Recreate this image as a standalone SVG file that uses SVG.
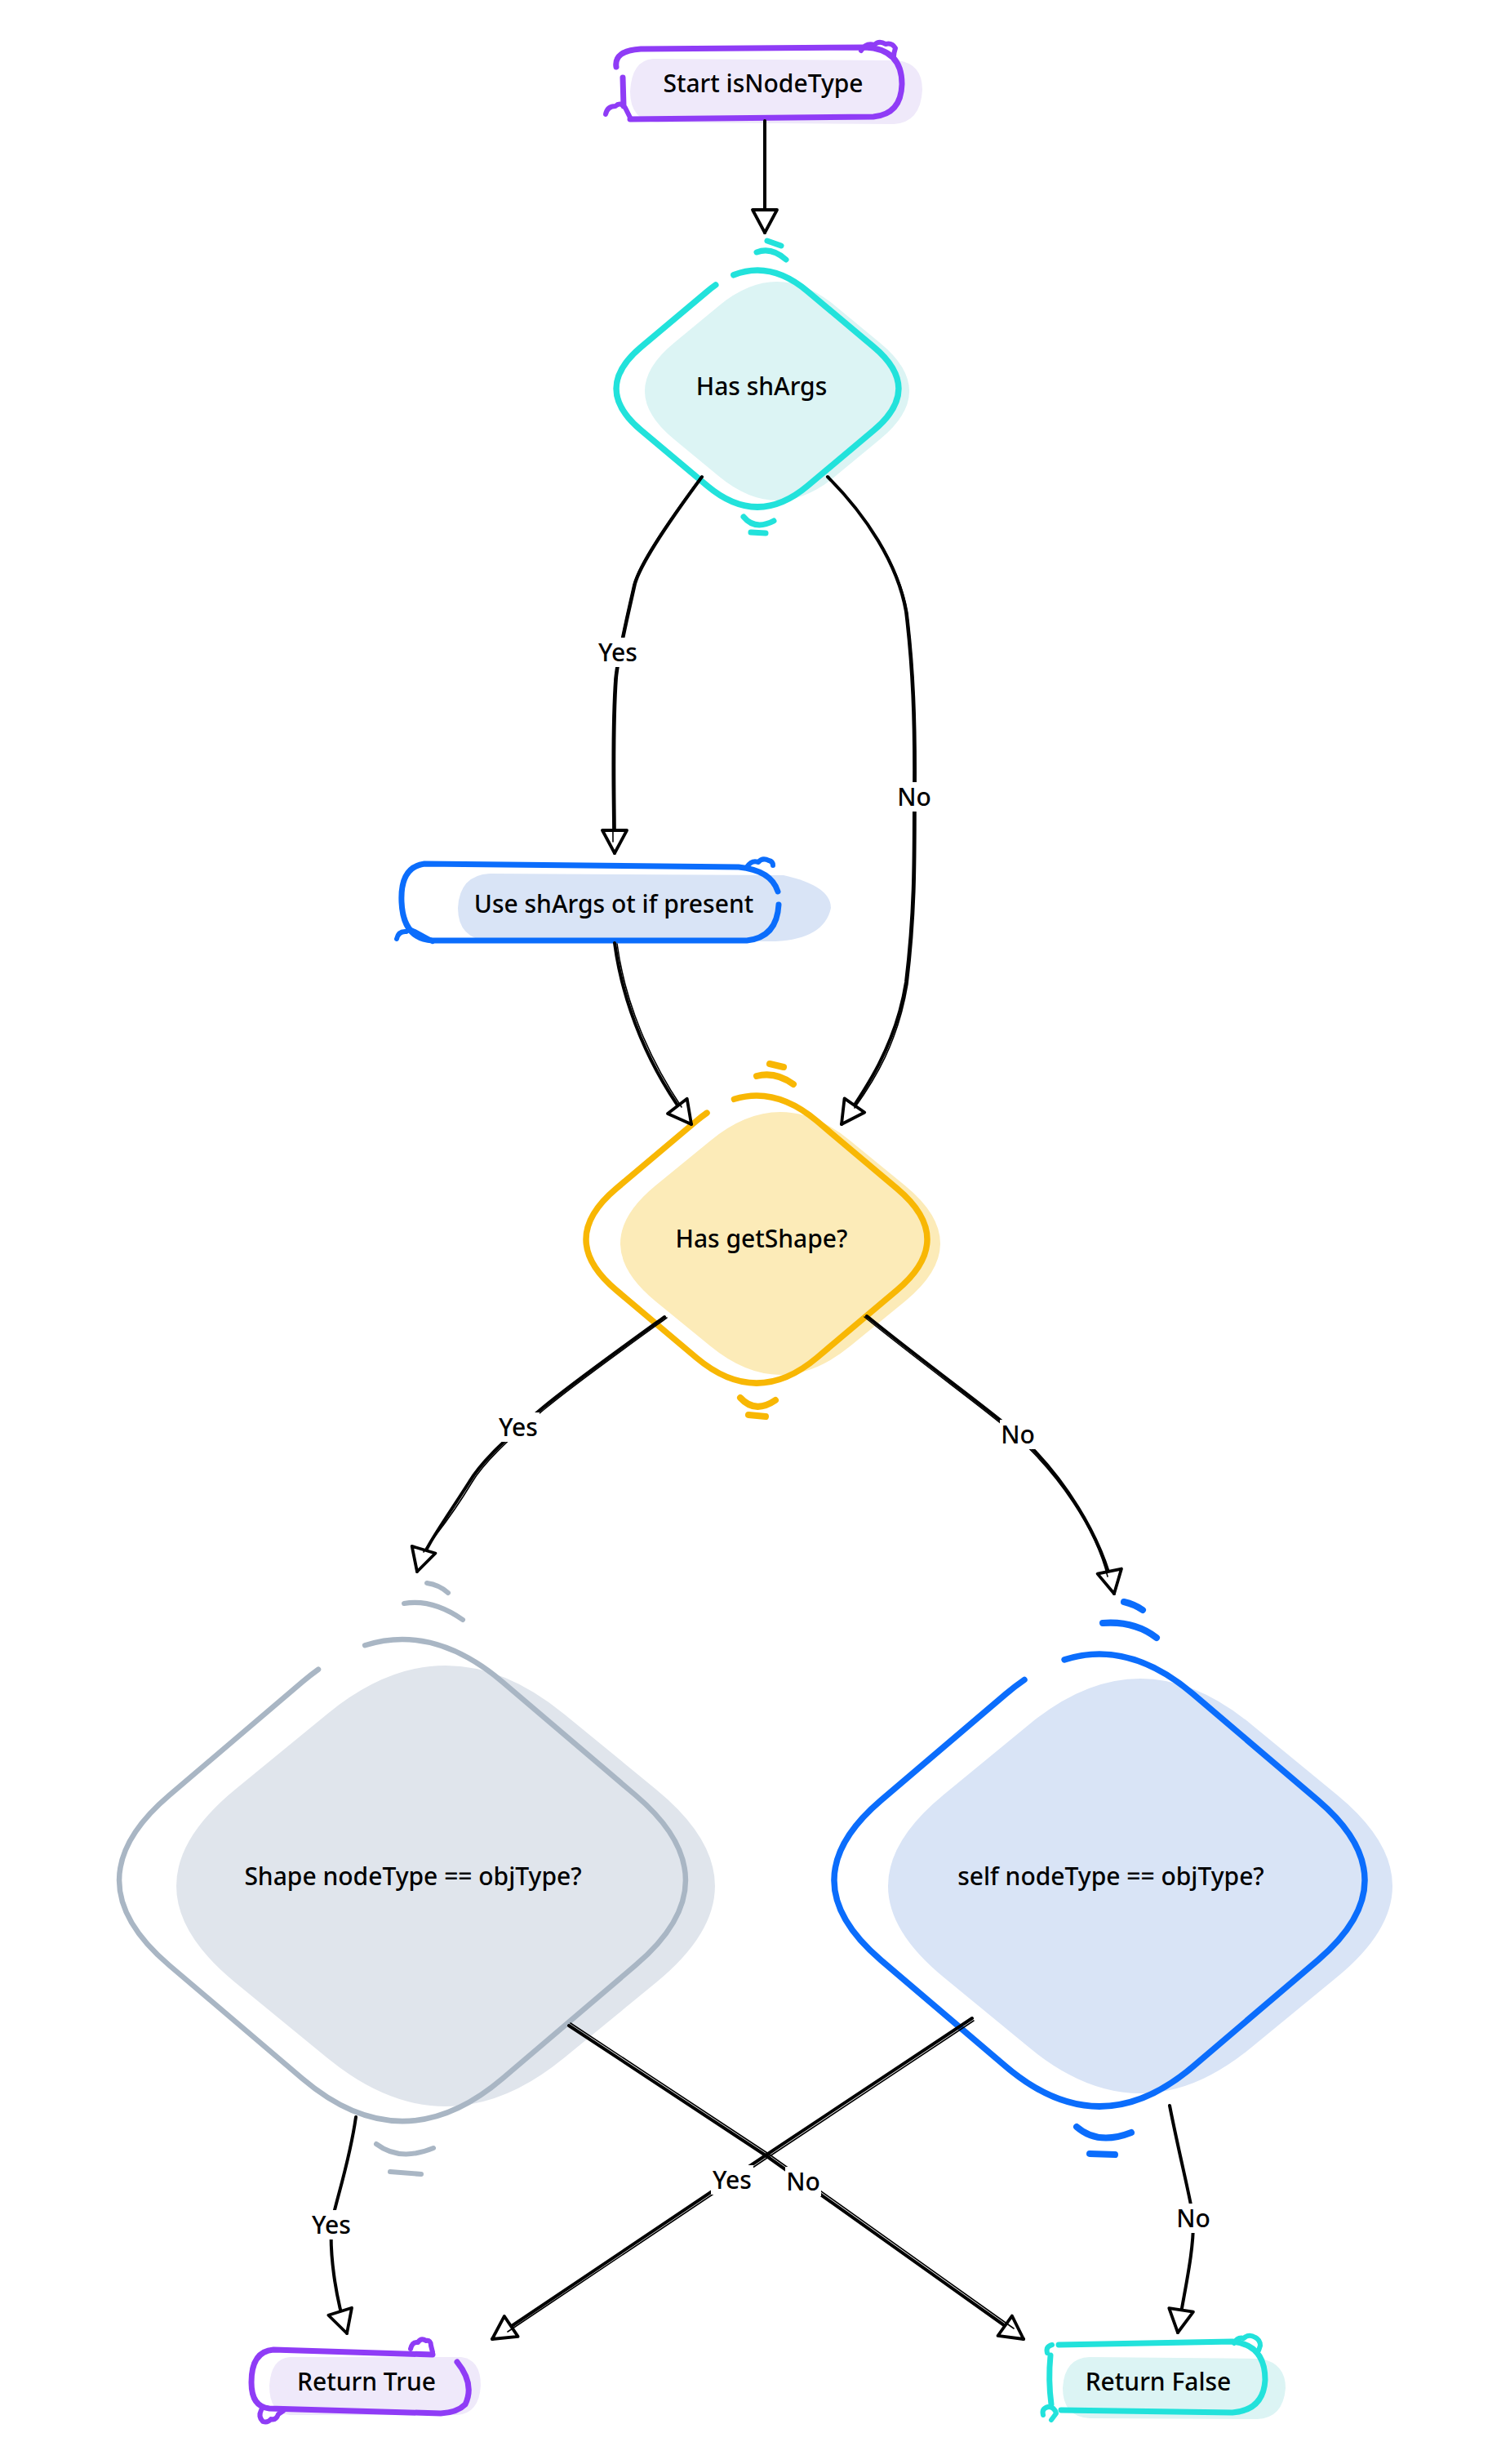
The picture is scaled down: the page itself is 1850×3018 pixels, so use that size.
<svg xmlns="http://www.w3.org/2000/svg" width="1850" height="3018" viewBox="0 0 1850 3018">
<style>
.t{font-family:"Noto Sans","Open Sans","DejaVu Sans",sans-serif;font-size:30px;font-weight:500;fill:#000;text-anchor:middle}
.e{fill:none;stroke:#000;stroke-width:4;stroke-linecap:round;stroke-linejoin:round}
.e2{fill:none;stroke:#000;stroke-width:1.6;stroke-linecap:round}
.ol{fill:none;stroke-linecap:round;stroke-linejoin:round}
.lb{fill:#fff}
.pu{stroke:#8f3cf6}.puf{fill:#efe9fa}
.cy{stroke:#22e2db}.cyf{fill:#dcf4f4}
.bl{stroke:#0b6dfc}.blf{fill:#d9e4f6}
.ye{stroke:#f8b704}.yef{fill:#fcebb8}
.gr{stroke:#a9b6c4}.grf{fill:#e0e5ec}
</style>
<defs>
<marker id="ah" viewBox="0 0 36 36" markerWidth="36" markerHeight="36" refX="32" refY="18" orient="auto" markerUnits="userSpaceOnUse" overflow="visible">
<path d="M4,3 L32,18 L4,33 Z" fill="#fff" stroke="#000" stroke-width="3.8" stroke-linejoin="round"/>
</marker>
</defs>
<rect width="1850" height="3018" fill="#fff"/>

<g id="start">
<path class="puf" d="M800,72 L1100,74 Q1130,78 1130,110 Q1128,150 1095,152 L805,150 Q772,148 772,112 Q774,74 800,72 Z"/>
<path class="ol pu" stroke-width="7" d="M755,82 Q752,62 785,60 L1060,58 Q1105,60 1105,103 Q1104,140 1070,143 L772,146"/>
<path class="ol pu" stroke-width="7" d="M763,95 L764,130"/>
<path class="ol pu" stroke-width="6" d="M1055,62 q6,-10 16,-7 q6,-6 14,-1 q8,-2 12,5 q-2,6 -2,10"/>
<path class="ol pu" stroke-width="6" d="M742,140 q2,-10 12,-10 q6,-6 12,2 l6,12"/>
<text class="t" x="935" y="113">Start isNodeType</text>
</g>

<g id="hasShArgs">
<path class="cyf" d="M880.9,374.4 Q952,315.6 1023.1,374.4 L1078.5,420.2 Q1149.6,479 1078.5,537.8 L1023.1,583.6 Q952,642.4 880.9,583.6 L825.5,537.8 Q754.4,479 825.5,420.2 Z"/>
<path class="ol cy" stroke-width="7.5" pathLength="1000" stroke-dasharray="973 27" stroke-dashoffset="-40" d="M866.9,356.6 Q928,305.4 989.1,356.6 L1070.4,424.8 Q1131.5,476 1070.4,527.2 L989.1,595.4 Q928,646.6 866.9,595.4 L785.6,527.2 Q724.5,476 785.6,424.8 Z"/>
<path class="ol cy" stroke-width="7" d="M940,295 L957,301 M927,309 Q945,302 963,318 M911,633 Q925,650 948,638 M920,652 L938,653"/>
<text class="t" x="933" y="484">Has shArgs</text>
</g>

<g id="useShArgs">
<path class="blf" d="M600,1070 L960,1072 Q1018,1085 1018,1112 Q1010,1150 950,1153 L600,1153 Q561,1150 561,1112 Q563,1072 600,1070 Z"/>
<path class="ol bl" stroke-width="7" d="M953,1092 Q945,1066 905,1062 L520,1058 Q490,1062 492,1105 Q494,1150 530,1152 L915,1152 Q952,1148 954,1108"/>
<path class="ol bl" stroke-width="6" d="M915,1062 q6,-9 14,-6 q5,-6 13,-2 q5,1 5,6"/>
<path class="ol bl" stroke-width="6" d="M486,1150 q2,-10 12,-9 q4,-4 10,0 L530,1153"/>
<text class="t" x="752" y="1118">Use shArgs ot if present</text>
</g>

<g id="hasGetShape">
<path class="yef" d="M870,1397.4 Q956,1326.7 1042,1397.4 L1109,1452.3 Q1195,1523 1109,1593.7 L1042,1648.6 Q956,1719.3 870,1648.6 L803,1593.7 Q717,1523 803,1452.3 Z"/>
<path class="ol ye" stroke-width="7.5" pathLength="1000" stroke-dasharray="967 33" stroke-dashoffset="-47" d="M853.2,1373 Q927,1310.9 1000.8,1373 L1099.1,1455.9 Q1172.9,1518 1099.1,1580.1 L1000.8,1663 Q927,1725.1 853.2,1663 L754.9,1580.1 Q681.1,1518 754.9,1455.9 Z"/>
<path class="ol ye" stroke-width="8" d="M943,1303 L960,1307 M927,1318 Q950,1312 972,1328 M907,1712 Q925,1732 950,1715 M917,1733 L938,1735"/>
<text class="t" x="933" y="1528">Has getShape?</text>
</g>

<g id="shapeNodeType">
<path class="grf" d="M401.1,2099.2 Q546,1980.7 690.9,2099.2 L803.5,2191.5 Q948.4,2310 803.5,2428.5 L690.9,2520.8 Q546,2639.3 401.1,2520.8 L288.5,2428.5 Q143.6,2310 288.5,2191.5 Z"/>
<path class="ol gr" stroke-width="6.5" pathLength="1000" stroke-dasharray="966 34" stroke-dashoffset="-47" d="M370.5,2060 Q493,1955.9 615.5,2060 L778.7,2198.9 Q901.2,2303 778.7,2407.1 L615.5,2546 Q493,2650.1 370.5,2546 L207.3,2407.1 Q84.8,2303 207.3,2198.9 Z"/>
<path class="ol gr" stroke-width="6" d="M523,1939 Q538,1941 549,1951 M495,1964 Q530,1958 567,1984 M461,2626 Q490,2648 531,2631 M478,2660 L516,2663"/>
<text class="t" x="506" y="2309">Shape nodeType == objType?</text>
</g>

<g id="selfNodeType">
<path class="blf" d="M1261.4,2111.7 Q1397,2000.2 1532.6,2111.7 L1638.2,2198.5 Q1773.8,2310 1638.2,2421.5 L1532.6,2508.3 Q1397,2619.8 1261.4,2508.3 L1155.8,2421.5 Q1020.2,2310 1155.8,2198.5 Z"/>
<path class="ol bl" stroke-width="7.5" pathLength="1000" stroke-dasharray="969 31" stroke-dashoffset="-47" d="M1232.3,2074.9 Q1347,1977.1 1461.7,2074.9 L1614.7,2205.2 Q1729.4,2303 1614.7,2400.8 L1461.7,2531.1 Q1347,2628.9 1232.3,2531.1 L1079.3,2400.8 Q964.6,2303 1079.3,2205.2 Z"/>
<path class="ol bl" stroke-width="8" d="M1377,1962 Q1390,1965 1400,1972 M1351,1988 Q1390,1985 1417,2006 M1319,2605 Q1345,2628 1386,2612 M1335,2638 L1366,2639"/>
<text class="t" x="1361" y="2309">self nodeType == objType?</text>
</g>

<g id="returnTrue">
<path class="puf" d="M355,2887 L565,2887 Q589,2890 589,2922 Q587,2956 560,2958 L355,2958 Q330,2956 330,2922 Q332,2889 355,2887 Z"/>
<path class="ol pu" stroke-width="7" d="M560,2893 Q582,2920 570,2945 Q560,2955 540,2956 L330,2950 Q308,2948 308,2918 Q308,2880 335,2878 L530,2884"/>
<path class="ol pu" stroke-width="6" d="M503,2877 q2,-9 9,-8 q4,-6 10,-2 q6,-1 6,6 l2,8"/>
<path class="ol pu" stroke-width="6" d="M320,2952 q-4,8 2,14 q6,2 10,-3 q6,2 9,-6 l6,-4"/>
<text class="t" x="449" y="2928">Return True</text>
</g>

<g id="returnFalse">
<path class="cyf" d="M1335,2887 L1545,2889 Q1575,2895 1575,2925 Q1572,2962 1540,2963 L1335,2962 Q1302,2960 1302,2925 Q1304,2888 1335,2887 Z"/>
<path class="ol cy" stroke-width="7" d="M1297,2872 L1510,2868 Q1550,2872 1550,2915 Q1548,2952 1510,2955 L1300,2952"/>
<path class="ol cy" stroke-width="7" d="M1287,2885 Q1284,2915 1288,2945"/>
<path class="ol cy" stroke-width="6" d="M1512,2870 q4,-8 12,-6 q6,-6 14,-1 q6,3 6,10 l-2,6"/>
<path class="ol cy" stroke-width="6" d="M1283,2882 q-2,-8 6,-10 M1278,2958 q-2,-8 6,-10 q8,0 10,8 l-6,8"/>
<text class="t" x="1419" y="2928">Return False</text>
</g>

<g id="connectors">
<path class="e" marker-end="url(#ah)" d="M937,148 L937,285"/>
<path class="e" marker-end="url(#ah)" d="M860,584 C815,645 785,690 778,715 C768,760 758,800 755,830 C750,900 753,980 753,1045"/>
<path class="e2" transform="translate(-2,1)" d="M860,584 C815,645 785,690 778,715 C768,760 758,800 755,830 C750,900 753,980 753,1030"/>
<path class="e" marker-end="url(#ah)" d="M1014,584 C1060,630 1100,690 1110,749 C1118,815 1121,880 1120,976 C1120,1060 1120,1120 1110,1203 C1098,1280 1060,1335 1031,1377"/>
<path class="e2" transform="translate(2,2)" d="M1014,584 C1060,630 1100,690 1110,749 C1118,815 1121,880 1120,976 C1120,1060 1120,1120 1110,1203 C1098,1275 1070,1320 1045,1355"/>
<path class="e" marker-end="url(#ah)" d="M753,1155 C763,1230 795,1310 847,1377"/>
<path class="e2" transform="translate(3,1)" d="M753,1155 C763,1230 795,1300 832,1355"/>
<path class="e" marker-end="url(#ah)" d="M814,1613 C760,1652 700,1695 664,1725 C620,1762 590,1790 575,1815 C540,1870 520,1895 511,1925"/>
<path class="e2" transform="translate(3,1)" d="M814,1613 C760,1652 700,1695 664,1725 C620,1762 590,1790 575,1815 C545,1865 525,1885 516,1900"/>
<path class="e" marker-end="url(#ah)" d="M1062,1612 C1140,1675 1210,1725 1247,1757 C1300,1805 1350,1880 1365,1952"/>
<path class="e2" transform="translate(-3,1)" d="M1062,1612 C1140,1675 1210,1725 1247,1757 C1300,1805 1345,1870 1360,1930"/>
<path class="e" marker-end="url(#ah)" d="M436,2593 C428,2650 410,2700 406,2725 C404,2760 410,2810 425,2858"/>
<path class="e" marker-end="url(#ah)" d="M697,2481 L938,2640 L1254,2865"/>
<path class="e2" transform="translate(2,-3)" d="M697,2481 L938,2640 L1240,2855"/>
<path class="e" marker-end="url(#ah)" d="M1191,2472 L938,2640 L603,2865"/>
<path class="e2" transform="translate(2,3)" d="M1191,2472 L938,2640 L620,2853"/>
<path class="e" marker-end="url(#ah)" d="M1433,2579 C1445,2640 1458,2690 1462,2717 C1463,2760 1450,2810 1443,2857"/>
<rect class="lb" x="731" y="781" width="52" height="36"/><text class="t" x="757" y="810">Yes</text>
<rect class="lb" x="1098" y="958" width="44" height="36"/><text class="t" x="1120" y="987">No</text>
<rect class="lb" x="609" y="1730" width="52" height="36"/><text class="t" x="635" y="1759">Yes</text>
<rect class="lb" x="1225" y="1739" width="44" height="36"/><text class="t" x="1247" y="1768">No</text>
<rect class="lb" x="380" y="2707" width="52" height="36"/><text class="t" x="406" y="2736">Yes</text>
<rect class="lb" x="871" y="2652" width="52" height="36"/><text class="t" x="897" y="2681">Yes</text>
<rect class="lb" x="962" y="2654" width="44" height="36"/><text class="t" x="984" y="2683">No</text>
<rect class="lb" x="1440" y="2699" width="44" height="36"/><text class="t" x="1462" y="2728">No</text>
</g>
</svg>
